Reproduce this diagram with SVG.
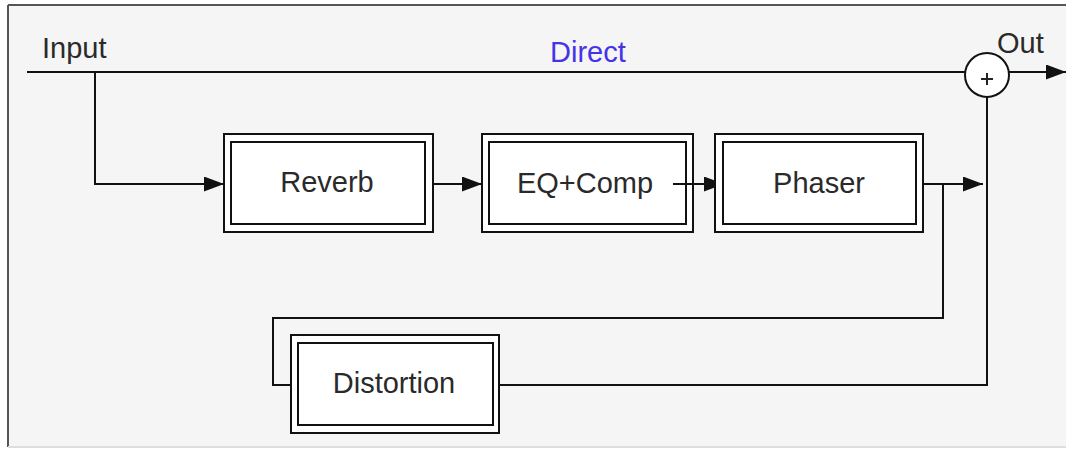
<svg xmlns="http://www.w3.org/2000/svg" width="1066" height="450" viewBox="0 0 1066 450">
  <defs>
    <style>
      text { font-family: "Liberation Sans", Arial, sans-serif; font-size: 29px; fill: #2a2a2a; }
      .lbl { text-anchor: middle; }
      .outer, .inner { fill: none; stroke: #111; stroke-width: 2; }
      .fillbox { fill: #ffffff; stroke: none; }
      .wire { fill: none; stroke: #111; stroke-width: 2; }
    </style>
    <marker id="arr" viewBox="0 0 20 15" refX="20" refY="7.5" markerWidth="20" markerHeight="15" markerUnits="userSpaceOnUse" orient="auto">
      <path d="M0,0 L20,7.5 L0,15 Z" fill="#111"/>
    </marker>
  </defs>

  <rect x="0" y="0" width="1066" height="450" fill="#ffffff"/>
  <rect x="8" y="5" width="1070" height="442" fill="#f5f5f5"/>
  <line x1="8" y1="5" x2="1066" y2="5" stroke="#555" stroke-width="2"/>
  <line x1="8" y1="5" x2="8" y2="447" stroke="#555" stroke-width="2"/>
  <line x1="8" y1="447" x2="1066" y2="447" stroke="#ddd" stroke-width="2"/>

  <g id="connectors">
    <line class="wire" x1="27" y1="72" x2="965" y2="72"/>
    <line class="wire" x1="1009" y1="72" x2="1066" y2="72" marker-end="url(#arr)"/>
    <polyline class="wire" points="95,72 95,184 224,184" marker-end="url(#arr)"/>
    <line class="wire" x1="433" y1="184" x2="482" y2="184" marker-end="url(#arr)"/>
    <line class="wire" x1="673" y1="184" x2="724" y2="184" marker-end="url(#arr)"/>
    <line class="wire" x1="923" y1="184" x2="983" y2="184" marker-end="url(#arr)"/>
    <polyline class="wire" points="943,184 943,318 273,318 273,385 291,385"/>
    <polyline class="wire" points="499,385 987,385 987,97"/>
  </g>

  <g id="input-label"><text x="42" y="58">Input</text></g>
  <g id="direct-label"><text x="550" y="62" style="fill:#4433e8">Direct</text></g>
  <g id="out-label"><text x="997" y="53">Out</text></g>

  <g id="sum">
    <circle cx="987" cy="75" r="22" fill="#ffffff" stroke="#111" stroke-width="2"/>
    <line x1="981" y1="79" x2="993" y2="79" stroke="#222" stroke-width="2"/>
    <line x1="987" y1="73" x2="987" y2="85" stroke="#222" stroke-width="2"/>
  </g>

  <g id="reverb">
    <rect class="fillbox" x="224" y="134" width="209" height="98"/>
    <rect class="outer" x="224" y="134" width="209" height="98"/>
    <rect class="inner" x="231" y="142" width="194" height="82"/>
    <text x="327" y="192" class="lbl">Reverb</text>
  </g>

  <g id="eqcomp">
    <rect class="fillbox" x="482" y="134" width="211" height="98"/>
    <rect class="outer" x="482" y="134" width="211" height="98"/>
    <rect class="inner" x="489" y="142" width="197" height="82"/>
    <text x="585" y="193" class="lbl">EQ+Comp</text>
  </g>

  <g id="phaser">
    <rect class="fillbox" x="715" y="134" width="208" height="98"/>
    <rect class="outer" x="715" y="134" width="208" height="98"/>
    <rect class="inner" x="723" y="142" width="193" height="82"/>
    <text x="819" y="193" class="lbl">Phaser</text>
  </g>

  <g id="distortion">
    <rect class="fillbox" x="291" y="335" width="208" height="98"/>
    <rect class="outer" x="291" y="335" width="208" height="98"/>
    <rect class="inner" x="298" y="343" width="195" height="82"/>
    <text x="394" y="393" class="lbl">Distortion</text>
  </g>

  <line class="wire" x1="673" y1="184" x2="715" y2="184"/>
</svg>
